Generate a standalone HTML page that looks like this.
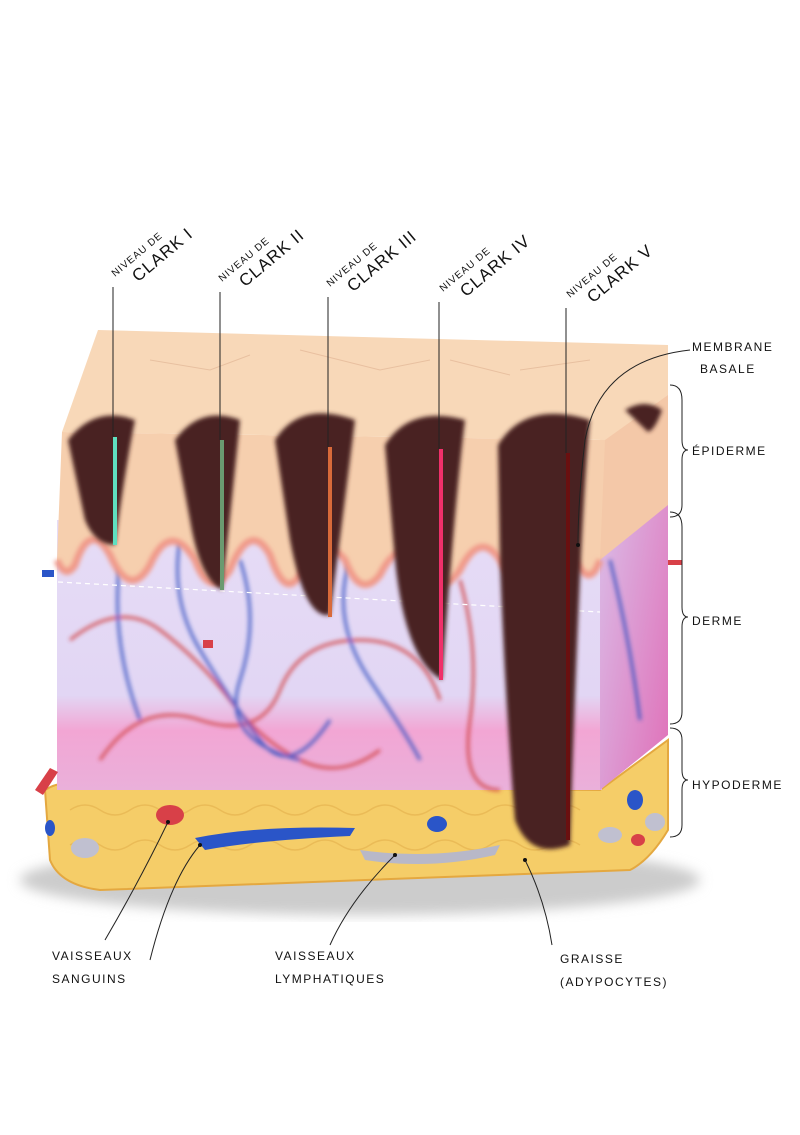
<!DOCTYPE html>
<html><head><meta charset="utf-8"><style>
html,body{margin:0;padding:0;background:#fff}
svg{display:block}
text{font-family:"Liberation Sans",sans-serif;fill:#111}
.s{font-size:10px;letter-spacing:1px}
.b{font-size:17px;letter-spacing:1px}
.l{font-size:12px;letter-spacing:1.5px}
</style></head><body>
<svg width="800" height="1135" viewBox="0 0 800 1135" xmlns="http://www.w3.org/2000/svg">
<defs>
<filter id="bl" x="-20%" y="-20%" width="140%" height="140%"><feGaussianBlur stdDeviation="2"/></filter>
<filter id="bl4"><feGaussianBlur stdDeviation="6"/></filter>
<linearGradient id="derm" x1="0" y1="0" x2="0" y2="1">
<stop offset="0" stop-color="#e6dcf6"/><stop offset="0.65" stop-color="#e2d6f4"/><stop offset="0.78" stop-color="#f2a6d4"/><stop offset="1" stop-color="#eab0da"/></linearGradient>
<linearGradient id="side" x1="0" y1="0" x2="1" y2="1">
<stop offset="0" stop-color="#d9c8ef"/><stop offset="1" stop-color="#e070b8"/></linearGradient>
</defs>
<ellipse cx="360" cy="880" rx="340" ry="35" fill="#ccc" filter="url(#bl4)"/>
<path d="M45,790 Q60,780 80,785 L600,790 L668,740 L668,830 Q650,860 630,870 L100,890 Q60,885 50,860 Z" fill="#f5cd68" stroke="#e4a840" stroke-width="2"/>
<g fill="none" stroke="#e6b450" stroke-width="1.5" opacity="0.7">
<path d="M70,810 q15,-10 30,0 q15,10 30,0 q15,-10 30,0 q15,10 30,0 q15,-10 30,0 q15,10 30,0 q15,-10 30,0 q15,10 30,0 q15,-10 30,0 q15,10 30,0 q15,-10 30,0 q15,10 30,0 q15,-10 30,0 q15,10 30,0 q15,-10 30,0 q15,10 30,0 q15,-10 30,0"/>
<path d="M70,845 q15,-10 30,0 q15,10 30,0 q15,-10 30,0 q15,10 30,0 q15,-10 30,0 q15,10 30,0 q15,-10 30,0 q15,10 30,0 q15,-10 30,0 q15,10 30,0 q15,-10 30,0 q15,10 30,0 q15,-10 30,0 q15,10 30,0 q15,-10 30,0 q15,10 30,0 q15,-10 30,0"/>
</g>
<rect x="57" y="520" width="545" height="270" fill="url(#derm)"/>
<path d="M600,440 L668,395 L668,735 L600,790 Z" fill="url(#side)"/>
<path d="M600,440 L668,395 L668,505 L600,560 Z" fill="#f4c8a8"/>
<g fill="none" stroke-width="3" filter="url(#bl)" opacity="0.85">
<path d="M70,640 Q120,600 160,630 T230,700 T300,760 T380,750" stroke="#d04040"/>
<path d="M100,760 Q140,700 200,720 T280,690 T360,640 T440,700" stroke="#d04040"/>
<path d="M180,540 Q170,600 200,650 T260,740 T330,720" stroke="#3050c0"/>
<path d="M240,560 Q260,620 240,680 T300,760" stroke="#3050c0"/>
<path d="M350,560 Q330,620 370,680 T420,760" stroke="#3050c0"/>
<path d="M460,580 Q480,650 470,720 T500,790" stroke="#d04040"/>
<path d="M120,560 Q110,640 140,720" stroke="#3050c0"/>
<path d="M610,560 Q630,640 640,720" stroke="#3050c0"/>
</g>
<path d="M62,432 L605,440 L600,560 Q590,590 575,560 Q560,540 540,570 Q520,600 500,560 Q480,530 460,570 Q440,600 420,565 Q400,535 380,575 Q360,600 345,560 Q320,530 300,575 Q285,600 270,555 Q250,520 230,570 Q210,600 195,560 Q170,520 150,565 Q130,600 110,555 Q90,520 75,565 Q65,580 57,560 Z" fill="#f6cfae"/>
<path d="M600,560 Q590,590 575,560 Q560,540 540,570 Q520,600 500,560 Q480,530 460,570 Q440,600 420,565 Q400,535 380,575 Q360,600 345,560 Q320,530 300,575 Q285,600 270,555 Q250,520 230,570 Q210,600 195,560 Q170,520 150,565 Q130,600 110,555 Q90,520 75,565 Q65,580 57,560" fill="none" stroke="#f09a8a" stroke-width="7" filter="url(#bl)"/>
<path d="M62,432 L98,330 L668,345 L668,395 L605,440 Z" fill="#f8d8b8"/>
<g fill="none" stroke="#e8c0a0" stroke-width="1"><path d="M150,360 l60,10 l40,-15 M300,350 l80,20 l50,-10 M450,360 l60,15 M520,370 l70,-10"/></g>
<path d="M58,582 L600,612" stroke="#fff" stroke-width="1.2" stroke-dasharray="5,4"/>
<g fill="#4a2420">
<path d="M68,440 Q95,405 135,420 Q125,470 115,545 Q95,545 85,520 Z" filter="url(#bl)"/>
<path d="M175,440 Q200,405 240,420 Q232,500 222,590 Q200,580 190,520 Z" filter="url(#bl)"/>
<path d="M275,440 Q300,400 355,420 Q345,500 330,615 Q305,620 290,540 Z" filter="url(#bl)"/>
<path d="M385,445 Q410,405 465,420 Q455,500 442,680 Q405,660 395,560 Z" filter="url(#bl)"/>
<path d="M498,445 Q525,400 590,420 Q580,520 570,845 Q530,860 515,820 Q505,700 500,560 Z" filter="url(#bl)"/>
<path d="M625,410 Q645,398 662,410 Q655,430 648,432 Z" filter="url(#bl)"/>
</g>
<g>
<ellipse cx="170" cy="815" rx="14" ry="10" fill="#d84048"/>
<path d="M195,838 Q260,825 355,828 L350,836 Q260,840 205,850 Z" fill="#2a55c8"/>
<path d="M360,850 Q430,860 500,845 L495,855 Q430,870 365,860 Z" fill="#b8b8c8"/>
<ellipse cx="437" cy="824" rx="10" ry="8" fill="#2a55c8"/>
<ellipse cx="85" cy="848" rx="14" ry="10" fill="#c0c0d0"/>
<ellipse cx="50" cy="828" rx="5" ry="8" fill="#2a55c8"/>
<ellipse cx="610" cy="835" rx="12" ry="8" fill="#c0c0d0"/>
<ellipse cx="655" cy="822" rx="10" ry="9" fill="#c0c0d0"/>
<ellipse cx="635" cy="800" rx="8" ry="10" fill="#2a55c8"/>
<ellipse cx="638" cy="840" rx="7" ry="6" fill="#d84048"/>
<path d="M35,790 L50,768 L58,772 L43,795 Z" fill="#d84048"/>
<rect x="42" y="570" width="12" height="7" fill="#2a55c8"/>
<rect x="203" y="640" width="10" height="8" fill="#d84048"/>
<rect x="668" y="560" width="14" height="5" fill="#d84048"/>
</g>
<g stroke-width="4">
<line x1="115" y1="437" x2="115" y2="545" stroke="#5fe0c0"/>
<line x1="222" y1="440" x2="222" y2="590" stroke="#6a9a70"/>
<line x1="330" y1="447" x2="330" y2="617" stroke="#d86a3a"/>
<line x1="441" y1="449" x2="441" y2="680" stroke="#f0306a"/>
<line x1="568" y1="453" x2="568" y2="840" stroke="#6a1010"/>
</g>
<g stroke="#222" stroke-width="1" fill="none">
<line x1="113" y1="287" x2="113" y2="437"/>
<line x1="220" y1="292" x2="220" y2="440"/>
<line x1="328" y1="297" x2="328" y2="447"/>
<line x1="439" y1="302" x2="439" y2="449"/>
<line x1="566" y1="308" x2="566" y2="453"/>
<path d="M690,350 Q600,360 585,440 Q578,500 578,545"/>
<path d="M670,385 q12,0 12,15 v40 q0,10 6,10 q-6,0 -6,10 v45 q0,12 -12,12"/>
<path d="M670,512 q12,0 12,15 v80 q0,10 6,10 q-6,0 -6,10 v85 q0,12 -12,12"/>
<path d="M670,728 q12,0 12,12 v30 q0,10 6,10 q-6,0 -6,10 v35 q0,12 -12,12"/>
<path d="M168,822 Q140,880 105,940"/>
<path d="M200,845 Q170,880 150,960"/>
<path d="M395,855 Q350,900 330,945"/>
<path d="M525,860 Q545,900 552,945"/>
</g>
<g fill="#111"><circle cx="168" cy="822" r="2"/><circle cx="200" cy="845" r="2"/><circle cx="395" cy="855" r="2"/><circle cx="525" cy="860" r="2"/><circle cx="578" cy="545" r="2"/></g>
<g transform="translate(115,277) rotate(-40)"><text class="s" x="0" y="0">NIVEAU DE</text><text class="b" x="14" y="19">CLARK I</text></g>
<g transform="translate(222,282) rotate(-40)"><text class="s" x="0" y="0">NIVEAU DE</text><text class="b" x="14" y="19">CLARK II</text></g>
<g transform="translate(330,287) rotate(-40)"><text class="s" x="0" y="0">NIVEAU DE</text><text class="b" x="14" y="19">CLARK III</text></g>
<g transform="translate(443,292) rotate(-40)"><text class="s" x="0" y="0">NIVEAU DE</text><text class="b" x="14" y="19">CLARK IV</text></g>
<g transform="translate(570,298) rotate(-40)"><text class="s" x="0" y="0">NIVEAU DE</text><text class="b" x="14" y="19">CLARK V</text></g>
<text class="l" x="692" y="351">MEMBRANE</text>
<text class="l" x="700" y="373">BASALE</text>
<text class="l" x="692" y="455">ÉPIDERME</text>
<text class="l" x="692" y="625">DERME</text>
<text class="l" x="692" y="789">HYPODERME</text>
<text class="l" x="52" y="960">VAISSEAUX</text>
<text class="l" x="52" y="983">SANGUINS</text>
<text class="l" x="275" y="960">VAISSEAUX</text>
<text class="l" x="275" y="983">LYMPHATIQUES</text>
<text class="l" x="560" y="963">GRAISSE</text>
<text class="l" x="560" y="986">(ADYPOCYTES)</text>
</svg>
</body></html>
